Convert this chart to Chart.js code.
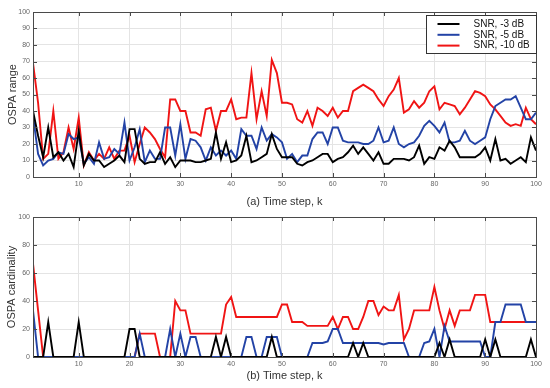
<!DOCTYPE html>
<html>
<head>
<meta charset="utf-8">
<script src="https://cdn.jsdelivr.net/npm/chart.js@4.4.1/dist/chart.umd.min.js"></script>
<style>
    html, body { margin: 0; padding: 0; background: #fff; }
    #wrap { position: relative; width: 550px; height: 388px; }
    canvas { position: absolute; left: 0; }
    #rangeChart { top: 0; }
    #cardChart { top: 209px; }
</style>
</head>
<body>
<div id="wrap">
    <canvas id="rangeChart" width="550" height="209"></canvas>
    <canvas id="cardChart" width="550" height="179"></canvas>
</div>
<script>
// Time steps 1..100
const timeSteps = [
    1, 2, 3, 4, 5, 6, 7, 8, 9, 10, 11, 12, 13, 14, 15, 16, 17, 18, 19, 20,
    21, 22, 23, 24, 25, 26, 27, 28, 29, 30, 31, 32, 33, 34, 35, 36, 37, 38, 39, 40,
    41, 42, 43, 44, 45, 46, 47, 48, 49, 50, 51, 52, 53, 54, 55, 56, 57, 58, 59, 60,
    61, 62, 63, 64, 65, 66, 67, 68, 69, 70, 71, 72, 73, 74, 75, 76, 77, 78, 79, 80,
    81, 82, 83, 84, 85, 86, 87, 88, 89, 90, 91, 92, 93, 94, 95, 96, 97, 98, 99, 100
];
const seriesLabels = ['SNR, -3 dB', 'SNR, -5 dB', 'SNR, -10 dB'];
const xTicks = [10, 20, 30, 40, 50, 60, 70, 80, 90, 100];

// (a) OSPA range
const rangeSnr3 = [
    40, 25, 12, 30, 12, 15, 10, 14, 6, 28, 7, 14, 10, 10, 6, 8, 10, 13, 9, 29,
    29, 11, 8, 9, 9, 15, 8, 12, 6, 10, 10, 10, 9, 9, 10, 11, 27, 11, 21, 9,
    10, 13, 25, 9, 10, 12, 14, 26, 17, 12, 12, 12, 8, 7, 9, 10, 12, 14, 14, 9,
    11, 12, 15, 19, 14, 18, 14, 10, 15, 8, 8, 11, 11, 11, 10, 12, 19, 8, 12, 11,
    18, 16, 22, 18, 12, 12, 12, 12, 14, 18, 10, 23, 10, 11, 8, 10, 12, 9, 24, 16
];
const rangeSnr5 = [
    37, 14, 7, 10, 11, 15, 14, 26, 23, 24, 8, 12, 8, 21, 11, 12, 17, 14, 33, 10,
    18, 29, 9, 16, 11, 11, 30, 30, 13, 32, 11, 23, 22, 18, 10, 18, 13, 16, 13, 16,
    11, 29, 25, 25, 17, 30, 22, 26, 24, 21, 11, 14, 9, 13, 13, 23, 27, 27, 20, 30,
    30, 22, 21, 21, 21, 20, 20, 22, 30, 21, 22, 30, 20, 18, 20, 21, 25, 31, 34, 31,
    27, 33, 21, 21, 22, 28, 22, 20, 22, 24, 35, 43, 45, 47, 47, 49, 42, 35, 35, 39
];
const rangeSnr10 = [
    69, 45, 11, 14, 40, 11, 15, 30, 17, 36, 7, 15, 10, 14, 11, 18, 11, 16, 16, 25,
    9, 20, 30, 27, 23, 17, 12, 47, 47, 40, 40, 27, 27, 25, 41, 42, 28, 40, 40, 47,
    35, 36, 36, 63, 35, 52, 37, 71, 63, 45, 45, 44, 35, 33, 40, 31, 42, 40, 37, 42,
    36, 40, 40, 52, 54, 56, 54, 52, 47, 43, 49, 53, 60, 39, 41, 46, 42, 45, 52, 55,
    41, 45, 44, 43, 38, 42, 47, 52, 51, 49, 44, 41, 37, 33, 31, 32, 31, 42, 35, 32
];
const rangeYTicks = [0, 10, 20, 30, 40, 50, 60, 70, 80, 90, 100];

// (b) OSPA cardinality
const cardSnr3 = [
    0, 0, 0, 25, 0, 0, 0, 0, 0, 25, 0, 0, 0, 0, 0, 0, 0, 0, 0, 20,
    20, 0, 0, 0, 0, 0, 0, 0, 0, 0, 0, 0, 0, 0, 0, 0, 14.3, 0, 14.3, 0,
    0, 0, 0, 0, 0, 0, 0, 14.3, 0, 0, 0, 0, 0, 0, 0, 0, 0, 0, 0, 0,
    0, 0, 0, 10, 0, 10, 0, 0, 0, 0, 0, 0, 0, 0, 0, 0, 0, 0, 0, 0,
    10, 0, 12.5, 0, 0, 0, 0, 0, 0, 12.5, 0, 12.5, 0, 0, 0, 0, 0, 0, 12.5, 0
];
const cardSnr5 = [
    33.3, 0, 0, 0, 0, 0, 0, 0, 0, 0, 0, 0, 0, 0, 0, 0, 0, 0, 0, 0,
    0, 16.7, 0, 0, 0, 0, 0, 20, 0, 16.7, 0, 14.3, 14.3, 0, 0, 0, 0, 0, 0, 0,
    0, 0, 14.3, 14.3, 0, 0, 14.3, 14.3, 14.3, 0, 0, 0, 0, 0, 0, 10, 10, 10, 11.1, 20,
    20, 10, 10, 10, 10, 10, 10, 10, 10, 9, 10, 10, 10, 10, 0, 0, 0, 10, 11.1, 20,
    0, 22.2, 11.1, 11.1, 11.1, 11.1, 11.1, 11.1, 11.1, 0, 0, 25, 25, 37.5, 37.5, 37.5, 37.5, 25, 25, 25
];
const cardSnr10 = [
    66.7, 33.3, 0, 0, 0, 0, 0, 0, 0, 0, 0, 0, 0, 0, 0, 0, 0, 0, 0, 0,
    0, 16.7, 16.7, 16.7, 16.7, 0, 0, 0, 40, 33.3, 33.3, 16.7, 16.7, 16.7, 16.7, 16.7, 16.7, 16.7, 37.5, 42.9,
    28.6, 28.6, 28.6, 28.6, 28.6, 28.6, 28.6, 28.6, 28.6, 37.5, 37.5, 25, 25, 25, 22.2, 22.2, 22.2, 22.2, 22.2, 28.6,
    20, 28.6, 28.6, 20, 20, 28.6, 40, 40, 30, 36, 33.3, 33.3, 44.4, 12.5, 20, 33.3, 33.3, 33.3, 33.3, 50,
    33.3, 20, 33.3, 22.2, 33.3, 33.3, 33.3, 44.4, 44.4, 44.4, 25, 25, 25, 25, 25, 25, 25, 25, 25, 25
];
const cardYTicks = [0, 20, 40, 60, 80, 100];

const lineColors = ['#000000', '#2343a6', '#f01414'];
const FONT = '"Liberation Sans", Arial, Helvetica, sans-serif';

// MATLAB style box with inward tick marks
const framePlugin = {
    id: 'frame',
    afterDraw(chart) {
        const { ctx, chartArea: a, scales } = chart;
        ctx.save();
        ctx.strokeStyle = '#4a4a4a';
        ctx.lineWidth = 1;
        ctx.strokeRect(Math.round(a.left) + 0.5, Math.round(a.top) + 0.5,
            Math.round(a.right - a.left), Math.round(a.bottom - a.top));
        ctx.beginPath();
        scales.x.ticks.forEach(t => {
            const x = Math.round(scales.x.getPixelForValue(t.value)) + 0.5;
            ctx.moveTo(x, a.bottom); ctx.lineTo(x, a.bottom - 4);
            ctx.moveTo(x, a.top); ctx.lineTo(x, a.top + 4);
        });
        scales.y.ticks.forEach(t => {
            const y = Math.round(scales.y.getPixelForValue(t.value)) + 0.5;
            ctx.moveTo(a.left, y); ctx.lineTo(a.left + 4, y);
            ctx.moveTo(a.right, y); ctx.lineTo(a.right - 4, y);
        });
        ctx.stroke();
        ctx.restore();
    }
};

// legend box drawn inside the plot (north-east)
const boxLegendPlugin = {
    id: 'boxLegend',
    afterDraw(chart) {
        const { ctx, chartArea: a } = chart;
        const w = 110, h = 38;
        const left = Math.round(a.right - w) + 0.5;
        const top = Math.round(a.top + 3) + 0.5;
        ctx.save();
        ctx.fillStyle = '#fff';
        ctx.fillRect(left, top, w, h);
        ctx.strokeStyle = '#333';
        ctx.lineWidth = 1;
        ctx.strokeRect(left, top, w, h);
        ctx.font = '10px ' + FONT;
        ctx.textBaseline = 'middle';
        chart.data.datasets.forEach((ds, i) => {
            const y = top + 8.5 + i * 10.8;
            ctx.strokeStyle = ds.borderColor;
            ctx.lineWidth = 2;
            ctx.beginPath();
            ctx.moveTo(left + 11, y);
            ctx.lineTo(left + 33, y);
            ctx.stroke();
            ctx.fillStyle = '#111';
            ctx.fillText(ds.label, left + 47, y);
        });
        ctx.restore();
    }
};

function makeChart(canvasId, series, yTicks, yTitle, xTitle, layout) {
    const datasets = series.map((values, i) => ({
        label: seriesLabels[i],
        data: values.map((v, j) => ({ x: timeSteps[j], y: v })),
        borderColor: lineColors[i],
        backgroundColor: lineColors[i],
        borderWidth: 1.9,
        pointRadius: 0,
        tension: 0,
        fill: false
    }));

    return new Chart(document.getElementById(canvasId), {
        type: 'line',
        data: { datasets },
        options: {
            responsive: false,
            animation: false,
            devicePixelRatio: 1,
            layout: { padding: { top: layout.top, right: 14, left: 0, bottom: 0 } },
            plugins: { legend: { display: false }, tooltip: { enabled: false } },
            scales: {
                x: {
                    type: 'linear',
                    min: 1,
                    max: 100,
                    afterBuildTicks: s => { s.ticks = xTicks.map(v => ({ value: v })); },
                    afterFit: s => { s.height = layout.xHeight; },
                    grid: { color: '#e4e4e4', drawTicks: false },
                    border: { display: false },
                    ticks: { color: '#666', padding: 3, maxRotation: 0, font: { family: FONT, size: 7 } },
                    title: {
                        display: true, text: xTitle, color: '#333',
                        font: { family: FONT, size: 11 },
                        padding: { top: 0, bottom: layout.xTitlePad }
                    }
                },
                y: {
                    min: 0,
                    max: 100,
                    afterBuildTicks: s => { s.ticks = yTicks.map(v => ({ value: v })); },
                    afterFit: s => { s.width = 33; },
                    grid: { color: '#e4e4e4', drawTicks: false },
                    border: { display: false },
                    ticks: { color: '#666', padding: 3, font: { family: FONT, size: 7 } },
                    title: {
                        display: true, text: yTitle, color: '#333',
                        font: { family: FONT, size: 11 },
                        padding: { top: layout.yTitlePad, bottom: 0 }
                    }
                }
            }
        },
        plugins: layout.legend ? [framePlugin, boxLegendPlugin] : [framePlugin]
    });
}

makeChart('rangeChart', [rangeSnr3, rangeSnr5, rangeSnr10], rangeYTicks,
    'OSPA range', '(a) Time step, k',
    { top: 12, xHeight: 32, xTitlePad: 0, yTitlePad: 6, legend: true });

makeChart('cardChart', [cardSnr3, cardSnr5, cardSnr10], cardYTicks,
    'OSPA cardinality', '(b) Time step, k',
    { top: 8, xHeight: 31, xTitlePad: 5, yTitlePad: 5, legend: false });
</script>
</body>
</html>
